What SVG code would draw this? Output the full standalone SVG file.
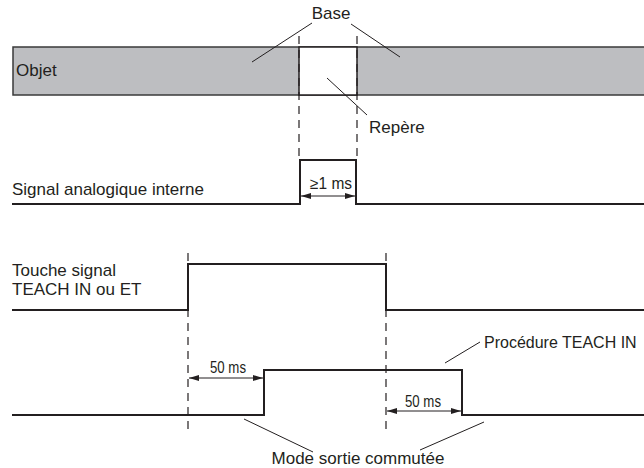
<svg xmlns="http://www.w3.org/2000/svg" width="644" height="468" viewBox="0 0 644 468">
<defs>
<marker id="ah" viewBox="0 0 10 6" refX="10" refY="3" markerWidth="10" markerHeight="6" markerUnits="userSpaceOnUse" orient="auto-start-reverse">
<path d="M0,0 L10,3 L0,6 Z" fill="#231f20"/>
</marker>
</defs>
<style>
text{font-family:"Liberation Sans",Arial,sans-serif;font-size:17px;fill:#231f20}
text.dl{font-size:16px}
text.pr{font-size:16px}
.sig{fill:none;stroke:#231f20;stroke-width:2}
.dash{fill:none;stroke:#231f20;stroke-width:1.2;stroke-dasharray:8 6}
.lead{fill:none;stroke:#231f20;stroke-width:1}
.dim{fill:none;stroke:#231f20;stroke-width:1;marker-start:url(#ah);marker-end:url(#ah)}
</style>
<rect width="644" height="468" fill="#ffffff"/>
<g id="objet">
<rect x="13" y="47" width="640" height="48" fill="#bdbec1" stroke="#3a3a3a" stroke-width="1.5"/>
<rect x="299" y="47" width="58" height="48" fill="#ffffff" stroke="#231f20" stroke-width="1.5"/>
<text x="16" y="76">Objet</text>
</g>
<g id="base">
<text x="331" y="19" text-anchor="middle">Base</text>
</g>
<g id="repere">
<text x="369" y="133">Repère</text>
</g>
<g id="signal-analogique">
<text x="12" y="195">Signal analogique interne</text>
<polyline class="sig" points="12,204 300,204 300,160 356,160 356,204 644,204"/>
<text class="dl" x="310" y="189" textLength="42" lengthAdjust="spacingAndGlyphs">≥1 ms</text>
</g>
<g id="touche-signal">
<text x="12" y="276">Touche signal</text>
<text x="12" y="295">TEACH IN ou ET</text>
<polyline class="sig" points="12,310 188,310 188,264 386,264 386,310 644,310"/>
</g>
<g id="mode-sortie">
<polyline class="sig" points="12,415 264,415 264,370 462,370 462,415 644,415"/>
<text class="dl" x="210" y="373" textLength="36" lengthAdjust="spacingAndGlyphs">50 ms</text>
<text class="dl" x="405" y="407" textLength="36" lengthAdjust="spacingAndGlyphs">50 ms</text>
</g>
<g id="procedure">
<text class="pr" x="484" y="348">Procédure TEACH IN</text>
</g>
<g id="mode-label">
<text x="358" y="464" text-anchor="middle">Mode sortie commutée</text>
</g>
<g id="connectors">
<line class="dash" x1="299" y1="36" x2="299" y2="156"/>
<line class="dash" x1="357" y1="36" x2="357" y2="156"/>
<line class="dash" x1="188" y1="253" x2="188" y2="430"/>
<line class="dash" x1="386" y1="253" x2="386" y2="430"/>
<line class="lead" x1="312" y1="23" x2="252" y2="62"/>
<line class="lead" x1="351" y1="24" x2="400" y2="57"/>
<line class="lead" x1="327" y1="78" x2="367" y2="115"/>
<line class="lead" x1="480" y1="342" x2="445" y2="363"/>
<line class="lead" x1="244" y1="419" x2="313" y2="452"/>
<line class="lead" x1="484" y1="422" x2="420" y2="450"/>
<line class="dim" x1="301" y1="196" x2="355" y2="196"/>
<line class="dim" x1="189" y1="378" x2="263" y2="378"/>
<line class="dim" x1="387" y1="411" x2="461" y2="411"/>
</g>
</svg>
